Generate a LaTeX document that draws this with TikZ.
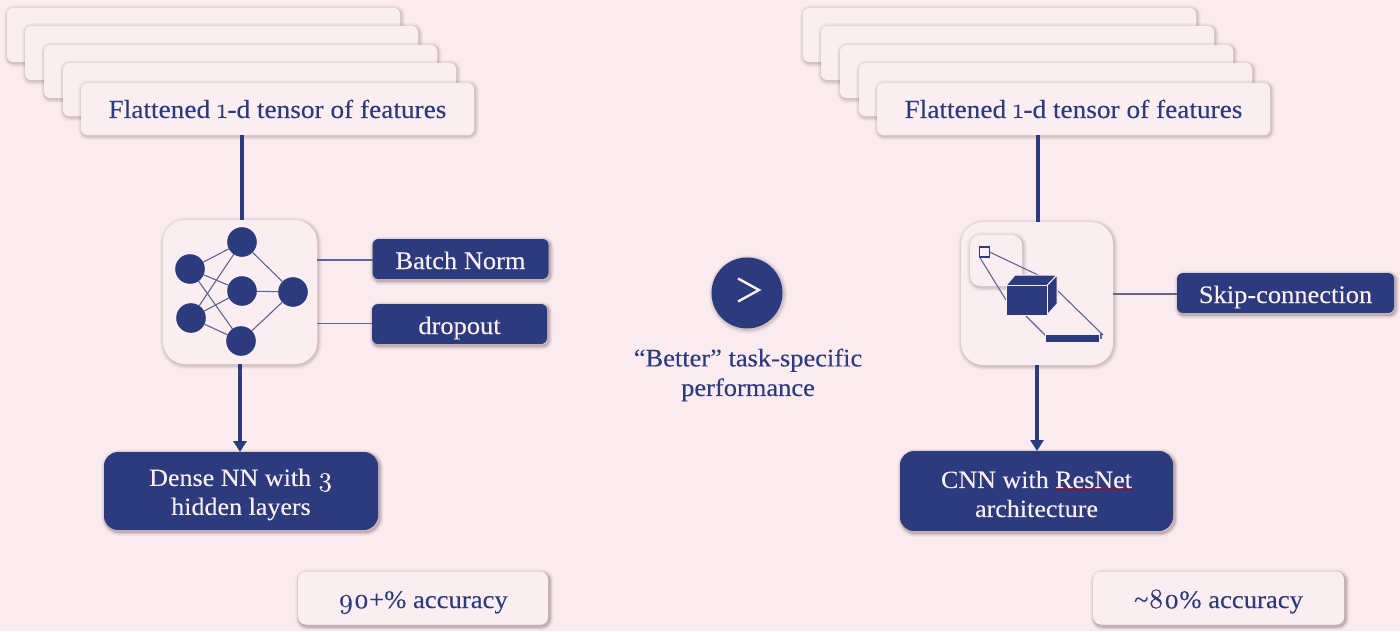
\documentclass[tikz,border=0pt]{standalone}
\usepackage{fontspec}
\setmainfont{Liberation Serif}[FakeStretch=1.05,FakeBold=0.15]
\newfontfamily\onumfont{Latin Modern Roman}[Numbers=OldStyle,Scale=1.1,FakeBold=0.5]
\usetikzlibrary{arrows.meta,decorations.pathmorphing}
\definecolor{bgcol}{HTML}{FAEBEE}
\definecolor{cardcol}{HTML}{FAEEF0}
\definecolor{navy}{HTML}{2C3B7E}
\definecolor{thinline}{HTML}{5C6594}
\definecolor{shadowcol}{HTML}{6E555E}
\tikzset{
  softshadow/.style={
    preaction={draw=shadowcol,draw opacity=.05,fill=none,line width=4pt,transform canvas={xshift=.5pt,yshift=-.6pt}},
    preaction={draw=shadowcol,draw opacity=.09,fill=none,line width=2.6pt,transform canvas={xshift=.5pt,yshift=-.6pt}},
    preaction={draw=shadowcol,draw opacity=.15,fill=none,line width=1.3pt,transform canvas={xshift=.5pt,yshift=-.6pt}}},
  strongshadow/.style={
    preaction={draw=shadowcol,draw opacity=.07,fill=none,line width=4pt,transform canvas={xshift=.7pt,yshift=-.9pt}},
    preaction={draw=shadowcol,draw opacity=.14,fill=none,line width=2.6pt,transform canvas={xshift=.7pt,yshift=-.9pt}},
    preaction={draw=shadowcol,draw opacity=.24,fill=none,line width=1.3pt,transform canvas={xshift=.7pt,yshift=-.9pt}}},
  size/.style 2 args={minimum width=#1*0.5pt,minimum height=#2*0.5pt,inner sep=0pt,outer sep=0pt},
  card/.style={softshadow,fill=cardcol,rounded corners=3pt,text=navy,text height=9pt,text depth=0pt,font=\fontsize{13}{14.5}\selectfont},
  darkbox/.style={strongshadow,fill=navy,rounded corners=3pt,text=cardcol,text height=10pt,text depth=0pt,font=\fontsize{12.6}{14.5}\selectfont},
  bigbox/.style={strongshadow,fill=navy,rounded corners=7pt},
  bigtext/.style={text=cardcol,align=center,font=\fontsize{12.4}{14.5}\selectfont},
  icontile/.style={softshadow,fill=cardcol,rounded corners=11pt},
  accbox/.style={strongshadow,fill=cardcol,rounded corners=4pt,text=navy,text height=10pt,text depth=0pt,font=\fontsize{12.7}{14.5}\selectfont},
  neuron/.style={circle,fill=navy,minimum size=14.8pt,inner sep=0pt,outer sep=0pt},
  heavy/.style={draw=navy,line width=2pt},
  flow/.style={heavy,-{Triangle[length=5.5pt,width=6.5pt]}},
  thin link/.style={draw=thinline,line width=.55pt},
  solid part/.style={fill=navy,draw=cardcol,line width=.5pt,line join=round},
}
\begin{document}
\begin{tikzpicture}[x=0.5pt,y=-0.5pt]
\useasboundingbox (0,0) rectangle (1400,631);
\fill[bgcol] (0,0) rectangle (1400,631);
% left stack
\node[card,size={393}{54}] (la) at (203.5,35) {};
\node[card,size={393}{54}] (lb) at (221.5,53) {};
\node[card,size={393}{53}] (lc) at (240.5,71.5) {};
\node[card,size={393}{53}] (ld) at (259.5,89.5) {};
\node[card,size={393}{52}] (le) at (277.5,109) {Flattened {\onumfont 1}-d tensor of features};
% right stack
\node[card,size={393}{54}] (ra) at (999.5,35) {};
\node[card,size={393}{54}] (rb) at (1017.5,53) {};
\node[card,size={393}{53}] (rc) at (1036.5,71.5) {};
\node[card,size={393}{53}] (rd) at (1055.5,89.5) {};
\node[card,size={393}{52}] (re) at (1073.5,109) {Flattened {\onumfont 1}-d tensor of features};
% left icon
\node[icontile,size={154}{144}] (licon) at (240,292) {};
\node[neuron] (n1) at (190,269) {};
\node[neuron] (n2) at (191,318) {};
\node[neuron] (h1) at (242,242) {};
\node[neuron] (h2) at (242,291) {};
\node[neuron] (h3) at (241,341) {};
\node[neuron] (o1) at (293,292) {};
\foreach \a/\b in {n1/h1,n1/h2,n1/h3,n2/h1,n2/h2,n2/h3,h1/o1,h2/o1,h3/o1}
  \draw[thin link] (\a) -- (\b);
\node[darkbox,size={176}{40}] (bn) at (460.5,259) {Batch Norm};
\node[darkbox,size={175}{40}] (dr) at (459.5,324) {dropout};
\coordinate (bnl) at (317,260);
\coordinate (drl) at (317,323.5);
\draw[thin link] (bnl) -- (bnl -| bn.west);
\draw[thin link] (drl) -- (drl -| dr.west);
\node[bigbox,size={274}{78}] (dense) at (241,491) {};
\node[bigtext] (densetext) at (241,494.5) {Dense NN with {\onumfont 3}\\hidden layers};
\node[accbox,size={250}{53}] (lacc) at (423,598) {{\onumfont 90}+\% accuracy};
\draw[heavy] ([xshift=.75pt]le.south -| licon.north) -- ([xshift=.75pt]licon.north);
\draw[flow] (licon.south) -- (licon.south |- dense.north);
% centre
\node[circle,fill=navy,softshadow,minimum size=35.5pt,inner sep=0pt,outer sep=0pt] (gt) at (747,293) {};
\coordinate (g1) at (738,278.5);
\coordinate (g2) at (759,290);
\coordinate (g3) at (738,301.5);
\draw[cardcol,line width=1.2pt,line join=miter] (g1) -- (g2) -- (g3);
\node[text=navy,align=center,font=\fontsize{12.6}{14.8}\selectfont] (better) at (748,375) {“Better” task-specific\\performance};
% right icon
\node[icontile,size={152}{143}] (ricon) at (1037,293.5) {};
\node[icontile,size={52}{51},rounded corners=5pt] (tile) at (996,260.5) {};
\node[draw=navy,fill=cardcol,line width=.8pt,size={10}{10}] (sq) at (984.5,252) {};
\coordinate (cu) at (1038,275);
\coordinate (cl) at (1006,300);
\coordinate (cr) at (1058,291);
\coordinate (cb) at (1026,316);
\coordinate (br) at (1103,335);
\coordinate (bl) at (1046,336);
\draw[thin link] (sq.east) -- (cu);
\draw[thin link] (sq.south west) -- (cl);
\draw[thin link] (cr) -- (br);
\draw[thin link] (cb) -- (bl);
\draw[solid part] (1006,285.5) -- (1015,275) -- (1057,275) -- (1047,285.5) -- cycle;
\draw[solid part] (1047,285.5) -- (1057,275) -- (1057,304) -- (1047,315) -- cycle;
\draw[solid part] (1006,285.5) rectangle (1047,315);
\draw[solid part] (1045.5,334) rectangle (1099.5,342);
\draw[thin link] (1101,333) -- (1101,339);
\node[darkbox,size={217}{40}] (skip) at (1285.5,293) {Skip-connection};
\coordinate (skl) at (1113,294);
\draw[thin link] (skl) -- (skl -| skip.west);
\node[bigbox,size={273}{80}] (cnn) at (1036.5,491) {};
\node[bigtext] (cnntext) at (1036.5,494) {CNN with ResNet\\architecture};
\node[accbox,size={251}{53}] (racc) at (1218.5,598) {\textasciitilde{\onumfont 80}\% accuracy};
\draw[heavy] ([xshift=.5pt]re.south -| ricon.north) -- ([xshift=.5pt]ricon.north);
\draw[flow] (ricon.south) -- (ricon.south |- cnn.north);
\coordinate (wa) at (1055,489.5);
\coordinate (wb) at (1133,489.5);
\draw[red!75!black,line width=.35pt,decorate,decoration={snake,amplitude=.35pt,segment length=2pt}] (wa) -- (wb);
\end{tikzpicture}
\end{document}
